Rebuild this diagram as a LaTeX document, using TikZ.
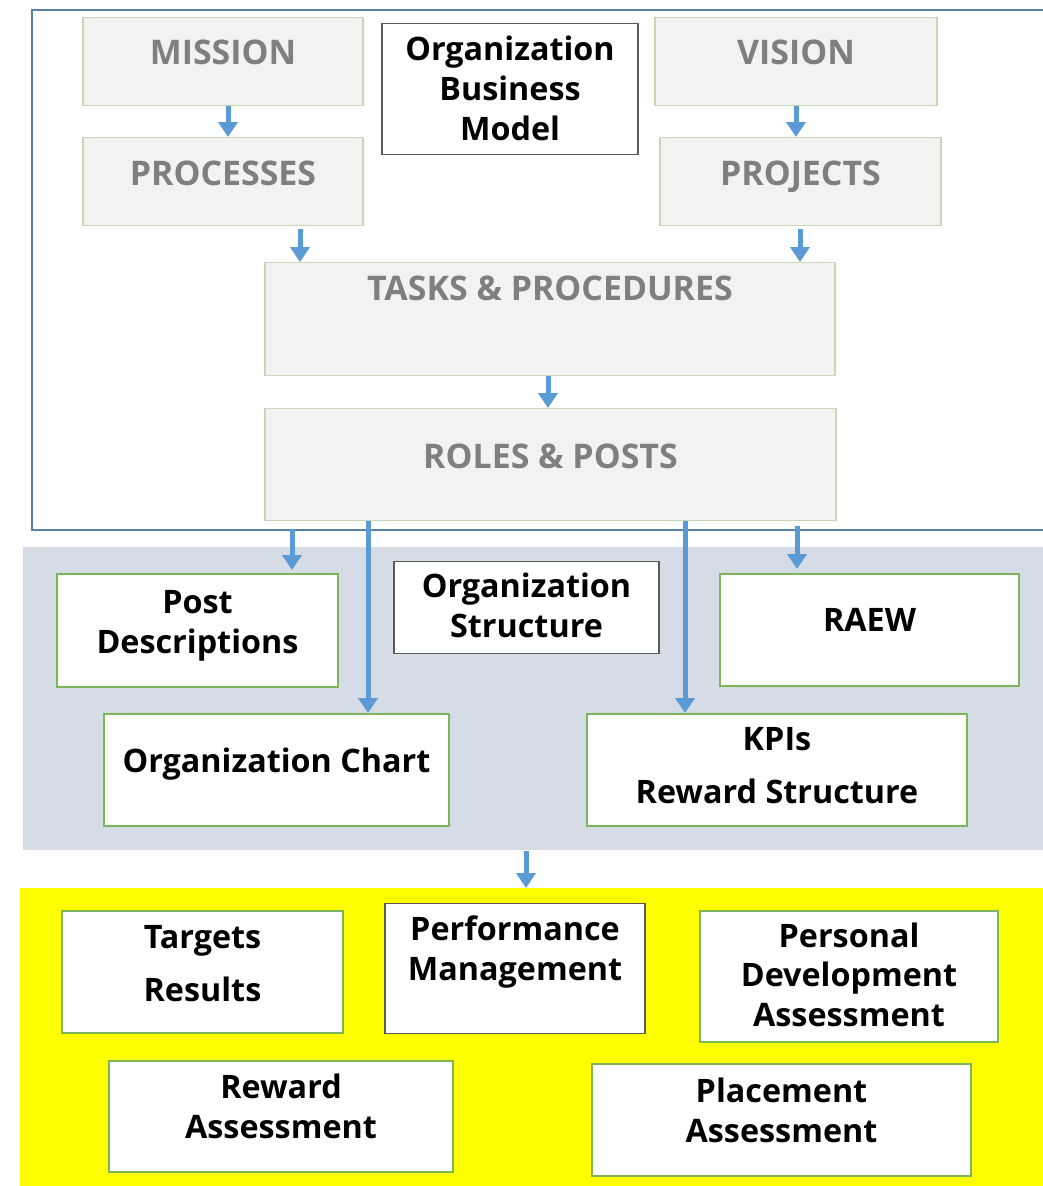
\documentclass[tikz,border=0pt]{standalone}
\usepackage{fontspec}
\setmainfont{Open Sans}
\usetikzlibrary{arrows.meta,positioning}
\definecolor{stagefill}{HTML}{F2F2F2}
\definecolor{stageline}{HTML}{C6D7B8}
\definecolor{stagetext}{HTML}{7F7F7F}
\definecolor{itemline}{HTML}{7EB45A}
\definecolor{noteline}{HTML}{5A5A5A}
\definecolor{framecol}{HTML}{5B80A8}
\definecolor{bandgrey}{HTML}{D6DCE5}
\definecolor{bandyellow}{HTML}{FFFF00}
\definecolor{flowblue}{HTML}{5B9BD5}

\begin{document}
\begin{tikzpicture}[
    x=0.02cm, y=-0.02cm,
    every node/.style={font=\bfseries\fontsize{18.4}{22.7}\selectfont, inner sep=0pt, anchor=north, align=center},
    stagebox/.style={draw=stageline, fill=stagefill, text=stagetext, line width=0.8pt, font=\bfseries\fontsize{19.3}{22.7}\selectfont},
    itembox/.style={draw=itemline, fill=white, line width=0.9pt},
    notebox/.style={draw=noteline, fill=white, line width=0.7pt},
    band/.style={anchor=north west, inner sep=0pt},
    flow/.style={-{Triangle[length=0.3cm, width=0.38cm]}, line width=0.1cm, draw=flowblue}
]
\useasboundingbox (0,0) rectangle (1043,1186);

% model frame and bands
\draw[framecol, line width=0.7pt] (32,10) rectangle (1070,530);
\node[band, fill=bandgrey, minimum width=20.4cm, minimum height=6.06cm] (roleband) at (23,547) {};
\node[band, fill=bandyellow, minimum width=20.46cm, minimum height=5.96cm] (reviewband) at (20,888) {};

% business model
\node[stagebox, minimum width=5.6cm, text height=0.94cm, text depth=0.82cm] (mission) at (223,17) {MISSION};
\node[stagebox, minimum width=5.6cm, text height=0.96cm, text depth=0.8cm] (processes) at (223,137) {PROCESSES};
\node[stagebox, minimum width=5.64cm, text height=0.94cm, text depth=0.82cm] (vision) at (796,17) {VISION};
\node[stagebox, minimum width=5.62cm, text height=0.96cm, text depth=0.8cm] (projects) at (800.5,137) {PROJECTS};
\node[stagebox, minimum width=11.4cm, text height=0.76cm, text depth=1.5cm] (tasks) at (550,262) {TASKS \& PROCEDURES};
\node[stagebox, minimum width=11.42cm, text height=1.2cm, text depth=1.04cm] (roles) at (550.5,408) {ROLES \& POSTS};
\node[notebox, minimum width=5.12cm, text height=2.34cm, text depth=0.28cm] (bizmodel) at (510,23) {Organization\\Business\\Model};

% structure
\node[itembox, minimum width=5.62cm, text height=1.6cm, text depth=0.66cm] (postdesc) at (197.5,573) {Post\\Descriptions};
\node[notebox, minimum width=5.3cm, text height=1.52cm, text depth=0.32cm] (orgstruct) at (526.5,561) {Organization\\Structure};
\node[itembox, minimum width=5.98cm, text height=1.16cm, text depth=1.08cm] (raew) at (869.5,573) {RAEW};
\node[itembox, minimum width=6.9cm, text height=1.18cm, text depth=1.06cm] (orgchart) at (276.5,713) {Organization Chart};
\node[itembox, minimum width=7.6cm, text height=1.8cm, text depth=0.44cm] (kpis) at (777,713) {KPIs\\[7.4pt]Reward Structure};

% performance
\node[itembox, minimum width=5.62cm, text height=1.82cm, text depth=0.62cm] (targets) at (202.5,910) {Targets\\[7.4pt]Results};
\node[notebox, minimum width=5.2cm, text height=1.54cm, text depth=1.06cm] (perfmgmt) at (515,903) {Performance\\Management};
\node[itembox, minimum width=5.96cm, text height=2.32cm, text depth=0.3cm] (persdev) at (849,910) {Personal\\Development\\Assessment};
\node[itembox, minimum width=6.88cm, text height=1.56cm, text depth=0.66cm] (reward) at (281,1060) {Reward\\Assessment};
\node[itembox, minimum width=7.58cm, text height=1.58cm, text depth=0.66cm] (placement) at (781.5,1063) {Placement\\Assessment};

\draw[flow] (mission.south -| 228,0) -- (processes.north -| 228,0);
\draw[flow] (vision.south -| 796,0) -- (projects.north -| 796,0);
\draw[flow, shorten <=0.06cm] (processes.south -| 300,0) -- (tasks.north -| 300,0);
\draw[flow, shorten <=0.06cm] (projects.south -| 800,0) -- (tasks.north -| 800,0);
\draw[flow] (tasks.south -| 548,0) -- (roles.north -| 548,0);
\draw[flow, shorten <=0.16cm, shorten >=0.06cm] (roles.south -| 292,0) -- (postdesc.north -| 292,0);
\draw[flow] (roles.south -| 368,0) -- (orgchart.north -| 368,0);
\draw[flow] (roles.south -| 685,0) -- (kpis.north -| 685,0);
\draw[flow, shorten <=0.1cm, shorten >=0.08cm] (roles.south -| 797,0) -- (raew.north -| 797,0);
\draw[flow] (roleband.south -| 526,0) -- (reviewband.north -| 526,0);
\end{tikzpicture}
\end{document}
